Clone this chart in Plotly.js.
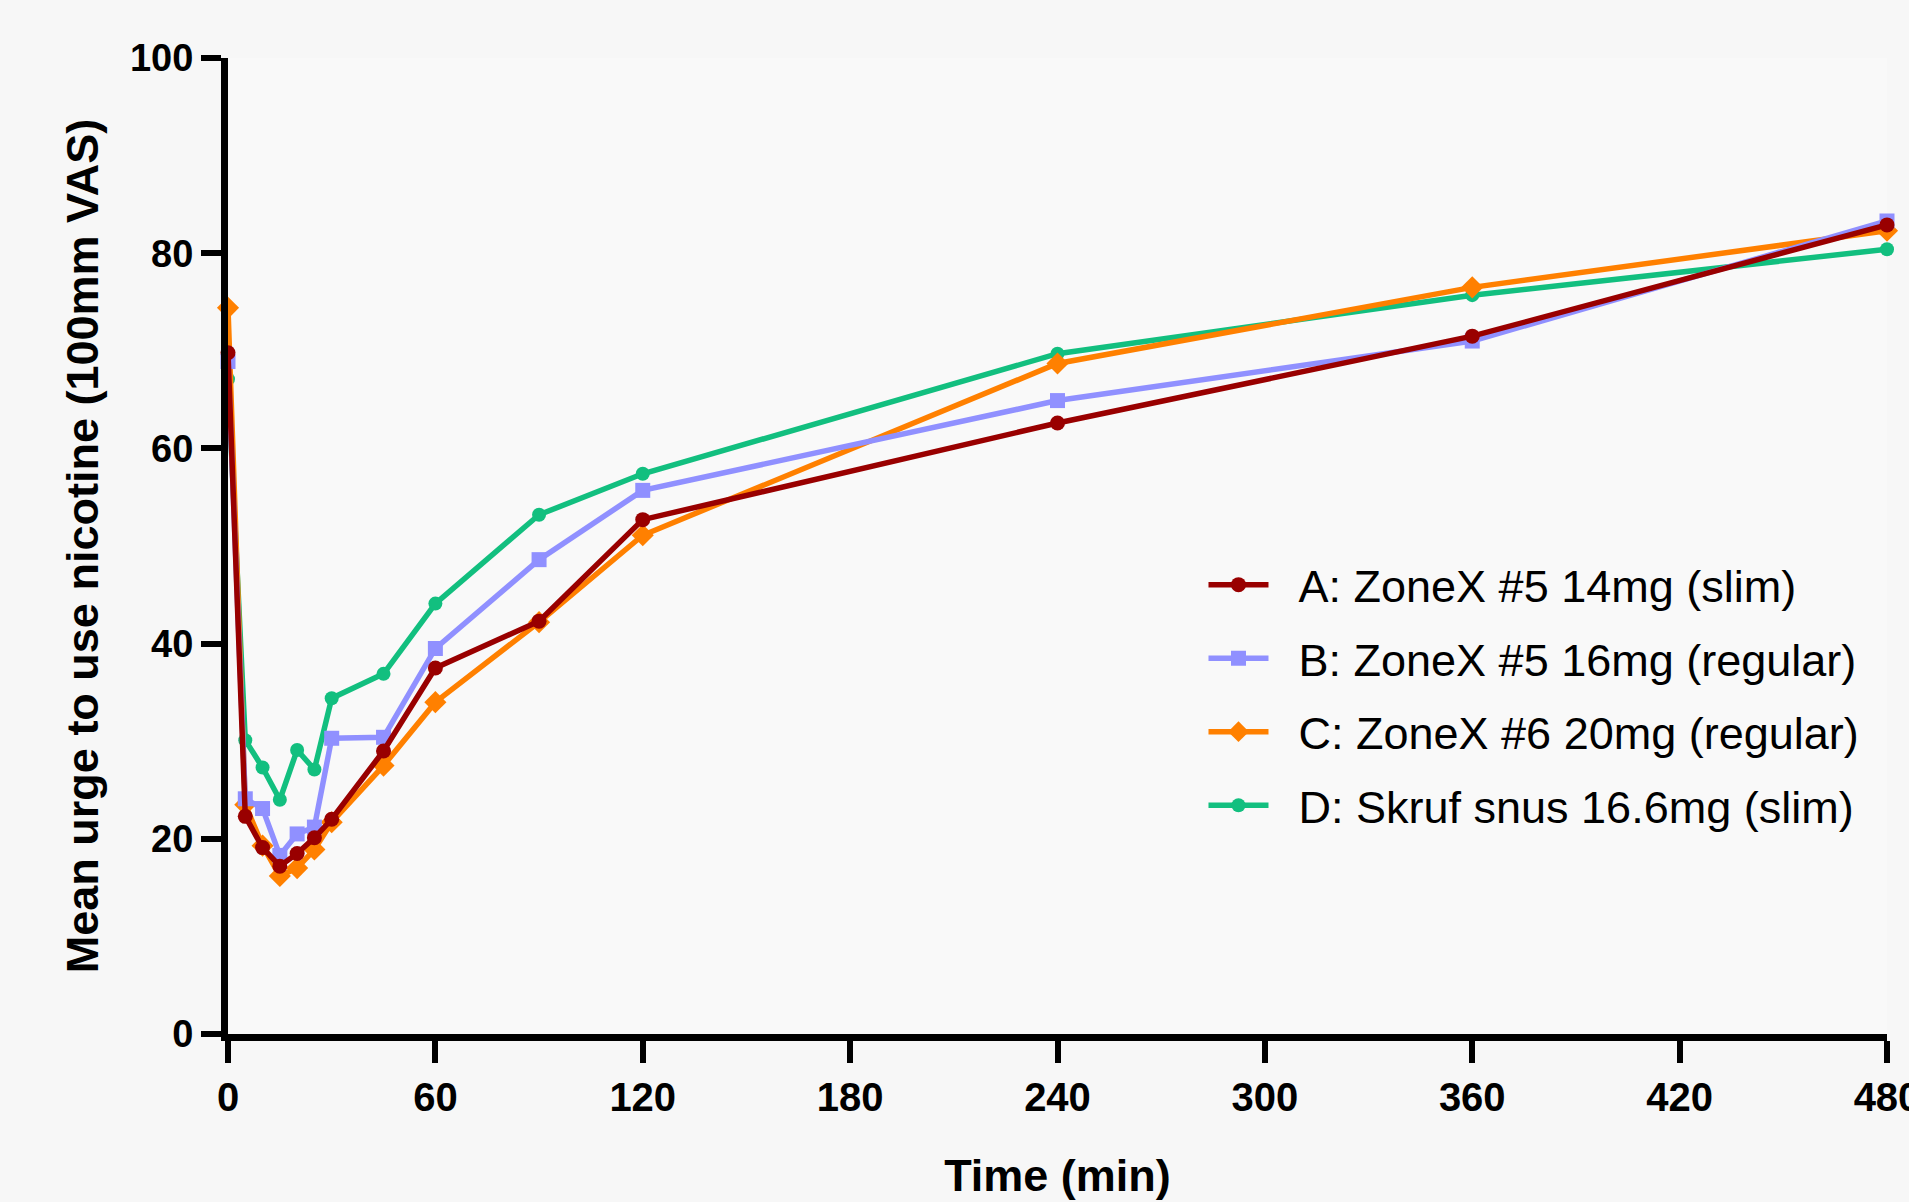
<!DOCTYPE html>
<html>
<head>
<meta charset="utf-8">
<script src="https://cdn.plot.ly/plotly-3.0.1.min.js"></script>
<style>html,body{margin:0;padding:0;background:#f7f7f7;}#chart{width:1909px;height:1202px;}</style>
</head>
<body>
<div id="chart"></div>
<script>
const timeMin = [0, 5, 10, 15, 20, 25, 30, 45, 60, 90, 120, 240, 360, 480];
const seriesNames = [
  "A: ZoneX #5 14mg (slim)",
  "B: ZoneX #5 16mg (regular)",
  "C: ZoneX #6 20mg (regular)",
  "D: Skruf snus 16.6mg (slim)"
];
const urgeA = [69.8, 22.3, 19.1, 17.2, 18.5, 20.1, 22.0, 29.0, 37.5, 42.3, 52.7, 62.6, 71.5, 82.9];
const urgeB = [68.9, 24.1, 23.1, 18.3, 20.5, 21.2, 30.3, 30.4, 39.5, 48.6, 55.7, 64.9, 71.0, 83.3];
const urgeC = [74.4, 23.5, 19.3, 16.2, 17.0, 18.9, 21.7, 27.5, 34.0, 42.2, 51.1, 68.7, 76.5, 82.3];
const urgeD = [67.1, 30.1, 27.3, 24.0, 29.1, 27.1, 34.4, 36.9, 44.1, 53.2, 57.4, 69.7, 75.7, 80.4];
const xTicks = [0, 60, 120, 180, 240, 300, 360, 420, 480];
const yTicks = [0, 20, 40, 60, 80, 100];

const colors = ["#990000", "#9090ff", "#ff8000", "#12bf7f"];
const symbols = ["circle", "square", "diamond", "circle"];
const sizes = [15, 15, 17, 14];
const values = [urgeA, urgeB, urgeC, urgeD];

const FONT = "Liberation Sans, Arial, Helvetica, sans-serif";

// draw D first, A last (A on top); legendrank keeps A..D order in the legend
const order = [3, 2, 1, 0];
const traces = order.map(i => ({
  type: "scatter",
  mode: "lines+markers",
  x: timeMin,
  y: values[i],
  name: "\u00a0\u00a0" + seriesNames[i],
  legendgroup: "g" + i,
  legendrank: 1000 + i,
  cliponaxis: false,
  line: {color: colors[i], width: 5.5},
  marker: {color: colors[i], symbol: symbols[i], size: sizes[i]}
}));

const layout = {
  width: 1909,
  height: 1202,
  paper_bgcolor: "#f7f7f7",
  plot_bgcolor: "#f9f9f9",
  margin: {l: 228, r: 22, t: 58, b: 168},
  showlegend: true,
  legend: {
    x: 0.588, y: 0.497, xanchor: "left", yanchor: "top",
    bgcolor: "rgba(0,0,0,0)",
    font: {family: FONT, size: 45, color: "#000"},
    traceorder: "grouped",
    tracegroupgap: 12,
    itemwidth: 60
  },
  xaxis: {
    range: [0, 480],
    tickvals: xTicks,
    ticktext: xTicks.map(String),
    showgrid: false, zeroline: false,
    showline: true, linecolor: "#000", linewidth: 7,
    ticks: "outside", ticklen: 22, tickwidth: 6, tickcolor: "#000",
    ticklabeloverflow: "allow",
    tickfont: {family: FONT, size: 40, color: "#000", weight: "bold"},
    title: {text: "Time (min)", font: {family: FONT, size: 45, color: "#000", weight: "bold"}, standoff: 44},
    automargin: false
  },
  yaxis: {
    range: [0, 100],
    tickvals: yTicks,
    ticktext: yTicks.map(String),
    showgrid: false, zeroline: false,
    showline: true, linecolor: "#000", linewidth: 7,
    ticks: "outside", ticklen: 20, tickwidth: 6, tickcolor: "#000",
    tickfont: {family: FONT, size: 38, color: "#000", weight: "bold"},
    title: {text: "Mean urge to use nicotine (100mm VAS)", font: {family: FONT, size: 45, color: "#000", weight: "bold"}, standoff: 20},
    automargin: false
  }
};

Plotly.newPlot("chart", traces, layout, {displayModeBar: false, staticPlot: true});
</script>
</body>
</html>
